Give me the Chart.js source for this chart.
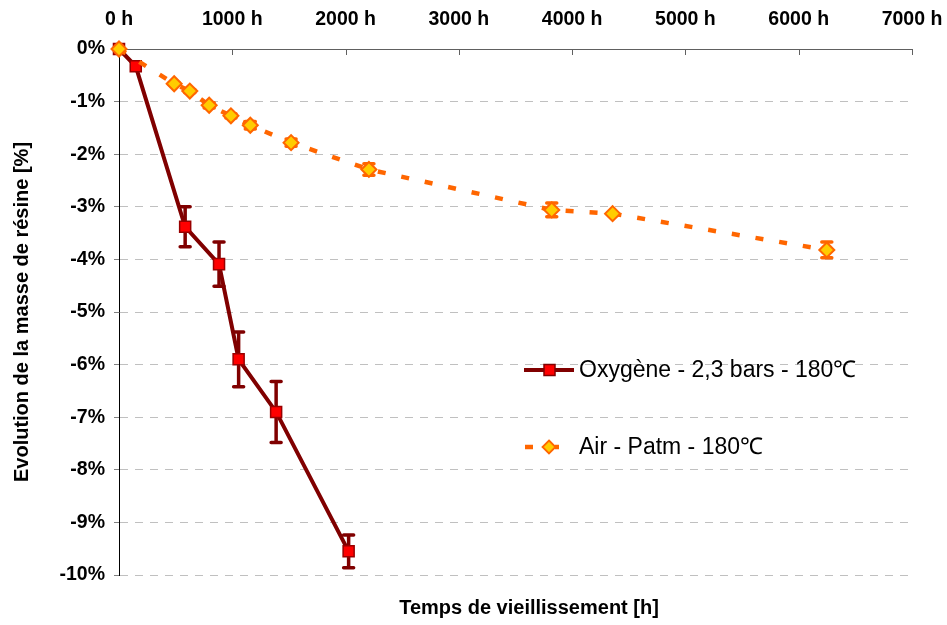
<!DOCTYPE html>
<html lang="fr">
<head>
<meta charset="utf-8">
<title>Evolution de la masse de résine</title>
<script src="https://cdn.jsdelivr.net/npm/chart.js@4.4.1/dist/chart.umd.min.js"></script>
<style>
    html, body { margin: 0; padding: 0; background: #fff; }
    #wrap { position: relative; width: 947px; height: 625px; }
</style>
</head>
<body>
<div id="wrap"><canvas id="massChart"></canvas></div>
<script>
// Données (temps en h, variation de masse en %)
const oxyHours = [0, 148, 584, 883, 1056, 1387, 2027];
const oxyMass = [0, -0.33, -3.38, -4.09, -5.90, -6.90, -9.55];
const oxyErr = [0, 0, 0.38, 0.42, 0.52, 0.58, 0.31];

const airHours = [0, 487, 625, 796, 988, 1159, 1519, 2206, 3820, 4357, 6248];
const airMass = [0, -0.66, -0.80, -1.07, -1.27, -1.45, -1.78, -2.29, -3.06, -3.13, -3.82];
const airErr = [0, 0.02, 0.03, 0.05, 0.04, 0.07, 0.07, 0.11, 0.13, 0.01, 0.15];

const xTicks = [0, 1000, 2000, 3000, 4000, 5000, 6000, 7000];
const yTicks = [0, -1, -2, -3, -4, -5, -6, -7, -8, -9, -10];

const seriesLabels = ['Oxygène - 2,3 bars - 180℃', 'Air - Patm - 180℃'];
const xTitle = 'Temps de vieillissement [h]';
const yTitle = 'Evolution de la masse de résine [%]';

const FONT = "'Liberation Sans', Arial, sans-serif";
const OXY_LINE = '#800000';
const OXY_FILL = '#ff0000';
const AIR_LINE = '#ff6600';
const AIR_FILL = '#ffcc00';

const toPoints = (xs, ys) => xs.map((x, i) => ({ x: x, y: ys[i] }));

// Barres d'erreur verticales, dessinées sous les marqueurs
const errorBars = {
    id: 'errorBars',
    beforeDatasetsDraw(chart) {
        const { ctx, scales: { x, y } } = chart;
        chart.data.datasets.forEach((ds) => {
            if (!ds.errors) return;
            ctx.save();
            ctx.strokeStyle = ds.borderColor;
            ctx.lineWidth = 3.5;
            ctx.lineCap = 'round';
            ds.data.forEach((p, j) => {
                const e = ds.errors[j];
                if (!e) return;
                const px = x.getPixelForValue(p.x);
                const top = y.getPixelForValue(p.y + e);
                const bot = y.getPixelForValue(p.y - e);
                ctx.beginPath();
                ctx.moveTo(px, top); ctx.lineTo(px, bot);
                ctx.moveTo(px - 5, top); ctx.lineTo(px + 5, top);
                ctx.moveTo(px - 5, bot); ctx.lineTo(px + 5, bot);
                ctx.stroke();
            });
            ctx.restore();
        });
    }
};

// Petites graduations vers l'intérieur sur l'axe du haut + titre du bas + légende
const decorations = {
    id: 'decorations',
    afterDraw(chart) {
        const { ctx, chartArea, scales: { x } } = chart;
        ctx.save();
        ctx.strokeStyle = '#606060';
        ctx.lineWidth = 1;
        x.ticks.forEach((t) => {
            if (t.value === 0) return;
            const px = Math.round(x.getPixelForValue(t.value)) + 0.5;
            ctx.beginPath();
            ctx.moveTo(px, chartArea.top);
            ctx.lineTo(px, chartArea.top + 6);
            ctx.stroke();
        });

        // titre de l'axe des temps
        ctx.fillStyle = '#000';
        ctx.font = 'bold 20px ' + FONT;
        ctx.textAlign = 'center';
        ctx.textBaseline = 'middle';
        ctx.fillText(xTitle, 529, 608);

        // légende
        const lx = 524, ly1 = 370, ly2 = 447;
        ctx.lineCap = 'butt';
        ctx.strokeStyle = OXY_LINE;
        ctx.lineWidth = 4;
        ctx.beginPath();
        ctx.moveTo(lx, ly1); ctx.lineTo(lx + 50, ly1);
        ctx.stroke();
        ctx.fillStyle = OXY_FILL;
        ctx.lineWidth = 1.5;
        ctx.fillRect(lx + 20, ly1 - 5.5, 11, 11);
        ctx.strokeRect(lx + 20, ly1 - 5.5, 11, 11);

        ctx.strokeStyle = AIR_LINE;
        ctx.lineWidth = 4.5;
        ctx.beginPath();
        ctx.moveTo(lx + 1, ly2); ctx.lineTo(lx + 9, ly2);
        ctx.moveTo(lx + 31, ly2); ctx.lineTo(lx + 35, ly2);
        ctx.stroke();
        ctx.fillStyle = AIR_FILL;
        ctx.lineWidth = 1.8;
        ctx.beginPath();
        ctx.moveTo(lx + 25, ly2 - 6.5);
        ctx.lineTo(lx + 31.5, ly2);
        ctx.lineTo(lx + 25, ly2 + 6.5);
        ctx.lineTo(lx + 18.5, ly2);
        ctx.closePath();
        ctx.fill();
        ctx.stroke();

        ctx.fillStyle = '#000';
        ctx.font = '23px ' + FONT;
        ctx.textAlign = 'left';
        ctx.fillText(seriesLabels[0], lx + 55, ly1 + 1);
        ctx.fillText(seriesLabels[1], lx + 55, ly2 + 1);
        ctx.restore();
    }
};

Chart.defaults.font.family = FONT;
Chart.defaults.color = '#000';

const massChart = new Chart(document.getElementById('massChart'), {
    type: 'line',
    data: {
        datasets: [{
            label: seriesLabels[0],
            data: toPoints(oxyHours, oxyMass),
            errors: oxyErr,
            borderColor: OXY_LINE,
            borderWidth: 4,
            pointStyle: 'rect',
            pointRadius: 7.8,
            pointBackgroundColor: OXY_FILL,
            pointBorderColor: '#990000',
            pointBorderWidth: 1.5,
            tension: 0,
            clip: false,
            order: 1
        }, {
            label: seriesLabels[1],
            data: toPoints(airHours, airMass),
            errors: airErr,
            borderColor: AIR_LINE,
            borderWidth: 4.5,
            borderDash: [8, 16],
            pointStyle: 'rectRot',
            pointRadius: 7.5,
            pointBackgroundColor: AIR_FILL,
            pointBorderColor: AIR_LINE,
            pointBorderWidth: 2,
            tension: 0,
            clip: false,
            order: 0
        }]
    },
    options: {
        responsive: true,
        maintainAspectRatio: false,
        animation: false,
        layout: { padding: { left: 0, right: 35, top: 0, bottom: 50 } },
        plugins: {
            legend: { display: false },
            tooltip: { enabled: false }
        },
        scales: {
            x: {
                type: 'linear',
                position: 'top',
                min: 0,
                max: 7000,
                afterBuildTicks: (s) => { s.ticks = xTicks.map((v) => ({ value: v })); },
                afterFit: (s) => { s.height = 49; s.paddingLeft = 0; s.paddingRight = 0; },
                grid: { display: false, drawTicks: false },
                border: { display: true, color: '#606060', width: 1 },
                ticks: {
                    padding: 18,
                    font: { size: 19.5, weight: 'bold' },
                    maxRotation: 0,
                    callback: (v) => v + ' h'
                }
            },
            y: {
                type: 'linear',
                position: 'left',
                min: -10,
                max: 0,
                afterBuildTicks: (s) => { s.ticks = yTicks.map((v) => ({ value: v })); },
                afterFit: (s) => { s.width = 119; s.paddingTop = 0; s.paddingBottom = 0; },
                grid: {
                    color: '#c0c0c0',
                    lineWidth: 1,
                    tickColor: '#808080',
                    tickLength: 5,
                    tickBorderDash: []
                },
                border: { display: true, color: '#000', width: 1, dash: [8, 7] },
                ticks: {
                    padding: 9,
                    font: { size: 19.5, weight: 'bold' },
                    callback: (v) => v + '%'
                },
                title: {
                    display: true,
                    text: yTitle,
                    font: { size: 20, weight: 'bold' },
                    padding: { top: 10, bottom: 0 }
                }
            }
        }
    },
    plugins: [errorBars, decorations]
});
</script>
</body>
</html>
